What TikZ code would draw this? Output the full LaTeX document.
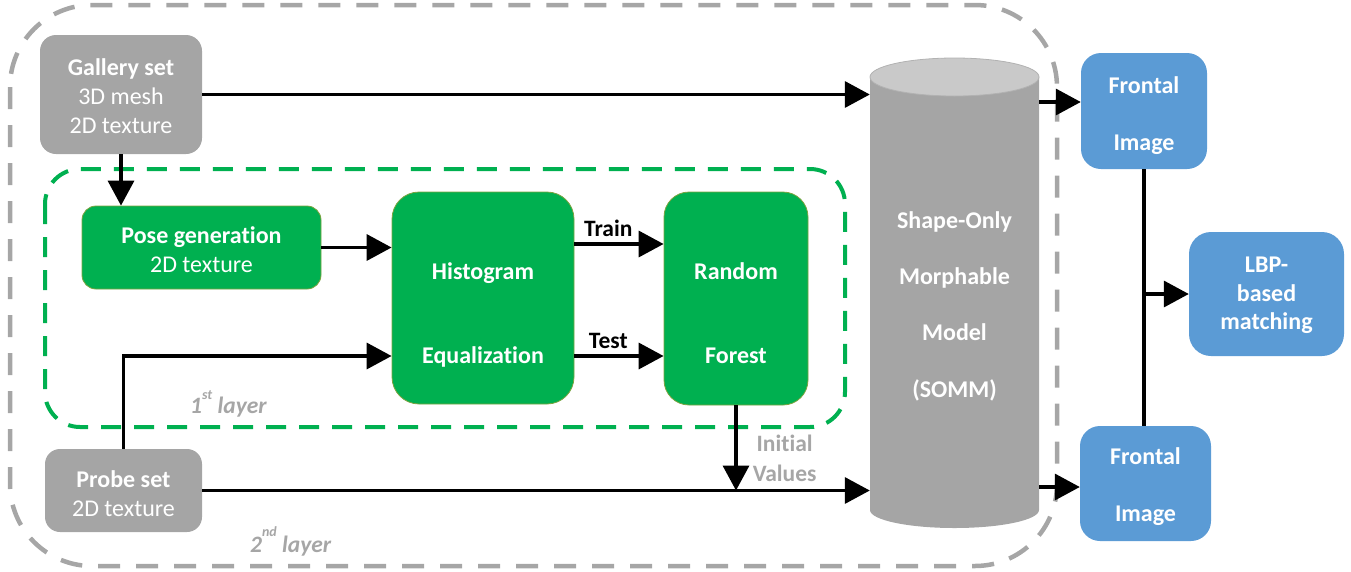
\documentclass[tikz,border=0pt]{standalone}
\usepackage{fontspec}
\setmainfont{Carlito}[Ligatures=NoCommon]
\usetikzlibrary{arrows.meta,calc}
\definecolor{boxgray}{HTML}{A5A5A5}
\definecolor{dashgray}{HTML}{A6A6A6}
\definecolor{gfill}{HTML}{00B050}
\definecolor{gline}{HTML}{7CA33F}
\definecolor{bfill}{HTML}{5B9BD5}
\definecolor{cyltop}{HTML}{C9C9C9}
\definecolor{cylline}{HTML}{B2B2B2}
\begin{document}
\begin{tikzpicture}[x=1pt,y=-1pt,
  box/.style={inner sep=0pt, align=center, text=white, font=\fontsize{24}{29}\selectfont},
  graybox/.style={box, fill=boxgray},
  greenbox/.style={box, fill=gfill, draw=gline, line width=0.8pt},
  bluebox/.style={box, fill=bfill, font=\fontsize{24}{29}\selectfont\bfseries},
  boldbox/.style={font=\fontsize{24}{29}\selectfont\bfseries},
  boxtext/.style={inner sep=0pt, align=center, text=white, font=\fontsize{24}{28}\selectfont\bfseries},
  conn/.style={line width=3.5pt, -{Triangle[length=25pt,width=26pt]}},
  plainline/.style={line width=3.5pt},
  edgelbl/.style={inner sep=0pt, text=black, font=\fontsize{23.5}{28}\selectfont\bfseries},
  graylbl/.style={inner sep=0pt, align=center, text=dashgray, font=\fontsize{23.5}{30}\selectfont\bfseries},
  layerlbl/.style={inner sep=0pt, text=dashgray, font=\fontsize{23.5}{28}\selectfont\bfseries\itshape},
  outerdash/.style={draw=dashgray, line width=4.5pt, dash pattern=on 22pt off 16pt, rounded corners=82pt},
  innerdash/.style={draw=gfill, line width=4pt, dash pattern=on 20pt off 13pt, rounded corners=35pt}
]
\useasboundingbox (0,0) rectangle (1351,571);

% layer frames
\draw[outerdash] (10,5) rectangle (1057,566);
\draw[innerdash] (45,169) rectangle (845,427);

% cylinder graphic
\fill[boxgray] (870,77) -- (870,510) arc[start angle=180,end angle=360,x radius=84.5pt,y radius=18pt] -- (1039,77) -- cycle;
\filldraw[fill=cyltop, draw=cylline, line width=0.8pt] (954.5,77) ellipse [x radius=84.5pt, y radius=19pt];
\node[boxtext, minimum width=169pt] (somm) at (954.5,306)
  {Shape-Only\\[28.3pt]Morphable\\[28.3pt]Model\\[28.3pt](SOMM)};

% boxes (text height / depth place the last baseline inside the box)
\node[graybox, minimum width=162pt, text height=98.7pt, text depth=20.3pt, rounded corners=16pt] (gallery) at (121,94.5)
  {\textbf{Gallery set}\\3D mesh\\2D texture};
\node[graybox, minimum width=157pt, text height=67.7pt, text depth=15.3pt, rounded corners=15pt] (probe) at (123.5,490.5)
  {\textbf{Probe set}\\2D texture};
\node[greenbox, minimum width=239pt, text height=66.7pt, text depth=16.3pt, rounded corners=14pt] (pose) at (201.5,247.5)
  {\textbf{Pose generation}\\2D texture};
\node[greenbox, boldbox, minimum width=182pt, text height=171.7pt, text depth=40.3pt, rounded corners=27pt] (hist) at (483,298)
  {Histogram\\[55pt]Equalization};
\node[greenbox, boldbox, minimum width=144pt, text height=171.7pt, text depth=41.3pt, rounded corners=25pt] (rf) at (736,298.5)
  {Random\\[55pt]Forest};
\node[bluebox, minimum width=126pt, text height=97.7pt, text depth=18.3pt, rounded corners=20pt] (f1) at (1144,111)
  {Frontal\\[28pt]Image};
\node[bluebox, minimum width=131pt, text height=95.7pt, text depth=19.3pt, rounded corners=20pt] (f2) at (1145.5,483.5)
  {Frontal\\[28pt]Image};
\node[bluebox, minimum width=155pt, text height=97.7pt, text depth=26.3pt, rounded corners=22pt, font=\fontsize{24}{28.5}\selectfont\bfseries] (lbp) at (1266.5,294)
  {LBP-\\based\\matching};

% connectors
\draw[conn] (gallery.east) -- (gallery.east -| somm.west);
\draw[conn] (gallery.south) -- (gallery.south |- pose.north);
\draw[conn] (pose.east) -- (pose.east -| hist.west);
\draw[conn] (probe.north) |- ([yshift=-58pt]hist.west);
\draw[conn] ([yshift=54pt]hist.east) -- ([yshift=54pt]hist.east -| rf.west)
  node[edgelbl, pos=0.38, above=5.5pt] {Train};
\draw[conn] ([yshift=-58pt]hist.east) -- ([yshift=-58pt]hist.east -| rf.west)
  node[edgelbl, pos=0.38, above=5.5pt] {Test};
\draw[conn] (probe.east) -- (probe.east -| somm.west);
\draw[conn] (rf.south) -- (rf.south |- probe.east)
  node[graylbl, pos=0.62, right=15pt] {Initial\\Values};
\draw[conn] ([yshift=9pt]f1.west -| somm.east) -- ([yshift=9pt]f1.west);
\draw[conn] ([yshift=-3.5pt]f2.west -| somm.east) -- ([yshift=-3.5pt]f2.west);
\draw[plainline] (f1.south) -- (f1.south |- f2.north);
\draw[conn] (f1.south |- lbp.west) -- (lbp.west);

% layer labels
\node[layerlbl, anchor=base west] (l1) at (190,413) {1\raisebox{14pt}{\fontsize{14}{14}\selectfont st} layer};
\node[layerlbl, anchor=base west] (l2) at (250,552) {2\raisebox{16pt}{\fontsize{14}{14}\selectfont nd} layer};
\end{tikzpicture}
\end{document}
